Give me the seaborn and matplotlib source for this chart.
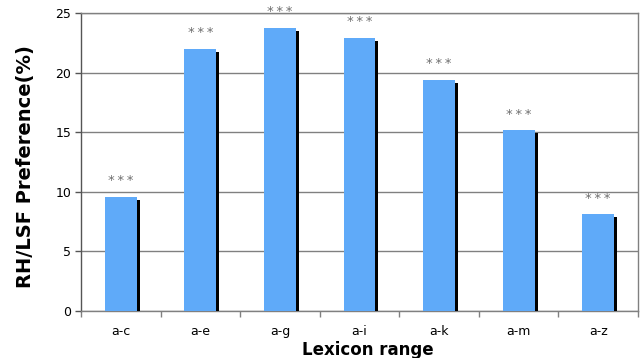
import matplotlib
matplotlib.use("Agg")
import matplotlib.pyplot as plt
import matplotlib.patheffects as pe
import seaborn as sns
import pandas as pd

# data
ranges = ["a-c", "a-e", "a-g", "a-i", "a-k", "a-m", "a-z"]
preference = [9.55, 22.0, 23.75, 22.9, 19.4, 15.15, 8.1]
significance = ["***", "***", "***", "***", "***", "***", "***"]
y_ticks = [0, 5, 10, 15, 20, 25]

df = pd.DataFrame({"range": ranges, "pref": preference})

sns.set_style("white")
plt.rcParams["font.family"] = ["DejaVu Sans"]
plt.rcParams["text.color"] = "black"
plt.rcParams["axes.labelcolor"] = "black"
plt.rcParams["xtick.color"] = "black"
plt.rcParams["ytick.color"] = "black"

fig = plt.figure(figsize=(6.41, 3.58), dpi=100)
ax = fig.add_axes([0.1264, 0.1313, 0.8689, 0.8324])

sns.barplot(data=df, x="range", y="pref", color="#5FAAF9", width=0.4,
            saturation=1, ax=ax, zorder=3)

# black drop shadow on each bar
for p in ax.patches:
    p.set_path_effects([
        pe.SimplePatchShadow(offset=(2.2, -2.2), shadow_rgbFace="black", alpha=1.0),
        pe.Normal(),
    ])
    p.set_edgecolor("none")

# significance stars (slightly spaced like the original)
for i, (v, s) in enumerate(zip(preference, significance)):
    ax.annotate("\u2009".join(s), (i, v), xytext=(0, 7), textcoords="offset points",
                ha="center", va="bottom", fontsize=9.5, color="#6e6e6e")

ax.set_ylim(0, 25)
ax.set_xlim(-0.5, len(ranges) - 0.5)
ax.set_yticks(y_ticks)
ax.yaxis.grid(True, color="#808080", linewidth=1, zorder=0)
ax.set_axisbelow(True)

for side in ["top", "right", "bottom"]:
    ax.spines[side].set_color("#808080")
ax.spines["left"].set_color("#555555")
for sp in ax.spines.values():
    sp.set_linewidth(1)

ax.tick_params(axis="y", left=True, length=4, width=1, color="#555555",
               labelsize=9, pad=3)
ax.tick_params(axis="x", which="major", bottom=True, length=0, labelsize=9, pad=10)
ax.set_xticks([i + 0.5 for i in range(-1, len(ranges))], minor=True)
ax.tick_params(axis="x", which="minor", bottom=True, length=4, width=1,
               color="#808080")

ax.set_ylabel("RH/LSF Preference(%)", fontsize=14, fontweight="bold")
ax.set_xlabel("Lexicon range", fontsize=12, fontweight="bold")
ax.yaxis.set_label_coords(-0.083, 0.483)
ax.xaxis.set_label_coords(0.515, -0.10)

plt.savefig("out.png", dpi=100)
